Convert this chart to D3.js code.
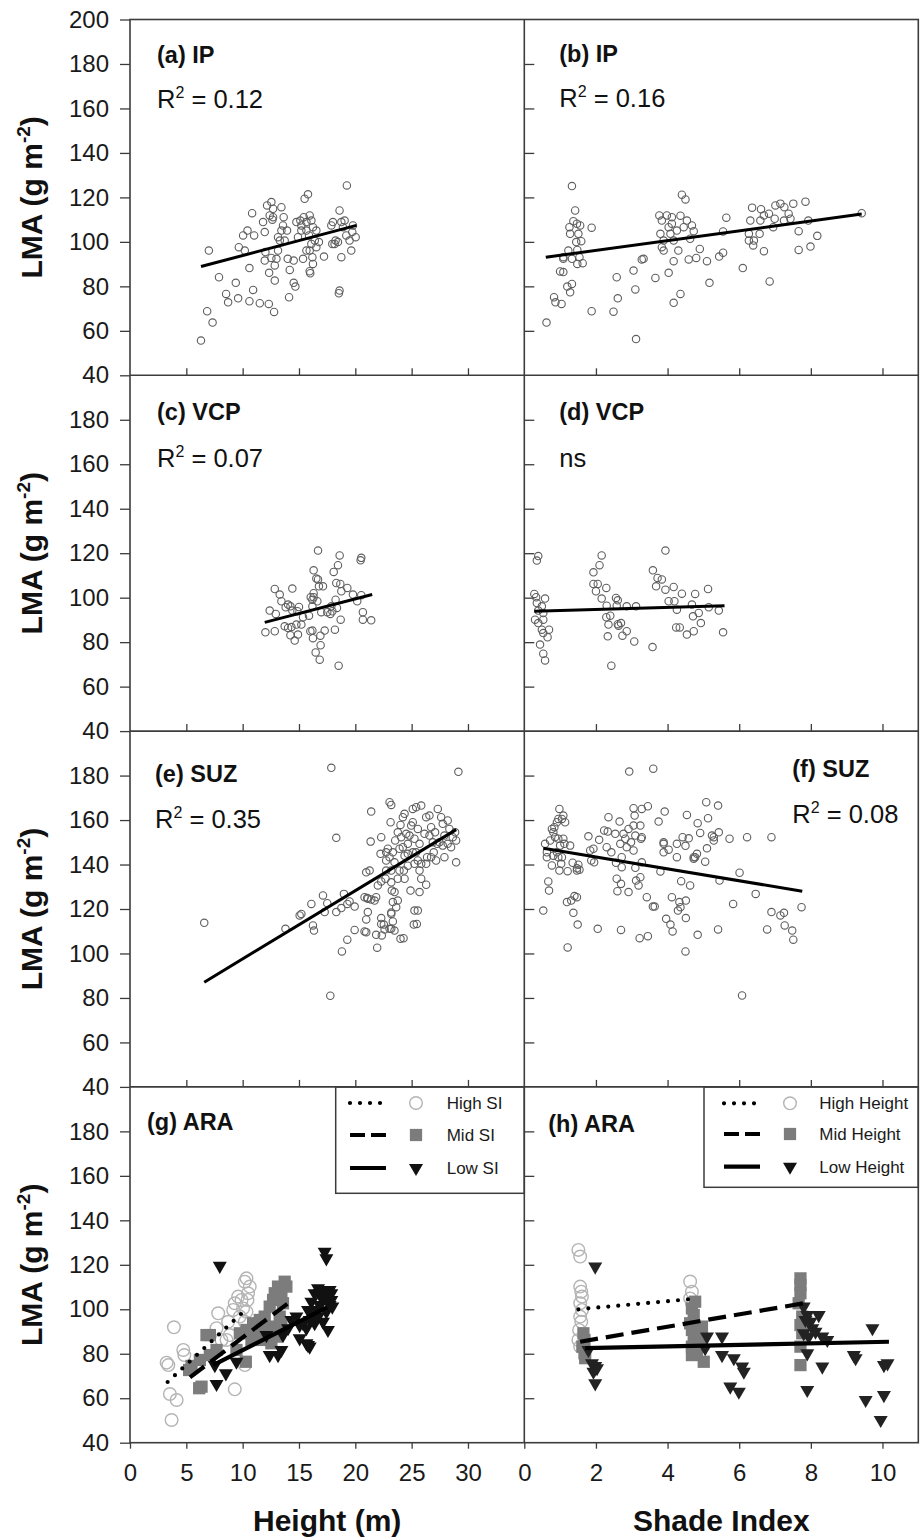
<!DOCTYPE html>
<html>
<head>
<meta charset="utf-8">
<script src="https://cdn.jsdelivr.net/npm/d3@7"></script>
<style>
  body { margin: 0; background: #fff; }
  svg { display: block; font-family: "Liberation Sans", Arial, Helvetica, sans-serif; }
</style>
</head>
<body>
<svg id="chart" width="922" height="1539"></svg>
<script>
// ---- Leaf mass per area (LMA) against tree height and shade index ----

// (a) IP, LMA vs height
const ipHeight = [[6.3,55.6],[6.85,68.8],[7.33,63.7],[7.0,96.1],[7.9,84.1],[8.53,76.6],[8.71,72.8],[9.39,81.6],[9.6,74.6],[9.66,97.6],[10.04,102.9],[10.43,105.1],[10.19,96.1],[10.6,88.2],[10.6,73.3],[10.84,112.9],[11.02,102.9],[10.93,78.4],[11.52,72.4],[12.32,72.1],[12.79,68.5],[12.35,86.1],[12.85,82.6],[12.02,95.4],[12.55,92.8],[11.96,104.4],[11.81,108.9],[12.17,116.4],[12.55,117.9],[12.7,114.9],[12.4,111.9],[12.64,110.0],[13.14,102.1],[13.3,100.6],[13.14,96.1],[13.0,92.4],[13.44,115.6],[13.64,111.1],[13.58,107.4],[13.94,105.1],[14.0,92.4],[14.18,87.4],[14.12,75.1],[14.53,81.6],[14.68,79.9],[14.53,91.6],[14.91,102.1],[15.12,109.6],[15.21,107.4],[15.5,119.4],[15.8,121.4],[15.42,111.1],[15.66,108.9],[15.95,111.9],[16.1,109.6],[16.24,106.6],[15.89,102.9],[16.1,99.1],[16.4,100.6],[15.95,96.1],[16.19,93.1],[15.36,92.4],[16.24,90.1],[15.95,86.8],[16.0,85.9],[16.77,99.9],[17.22,93.4],[16.54,105.1],[17.87,107.4],[18.01,108.9],[18.25,100.6],[18.6,114.1],[18.76,108.9],[18.9,106.6],[19.2,102.9],[19.49,100.6],[19.64,96.1],[18.76,93.1],[18.6,78.1],[18.54,76.9],[19.25,125.4],[19.79,107.4],[20.03,102.1],[19.73,104.4],[18.16,99.1],[18.46,99.9],[17.96,99.1],[14.77,108.9],[15.21,105.1],[11.96,91.6],[12.7,111.1],[13.44,105.1],[12.85,89.4],[13.73,100.6],[15.66,105.1],[16.54,97.6],[15.66,96.1],[19.05,109.6]];
const ipHeightFit = [[6.3,88.9],[20.1,107.4]];

// (b) IP, LMA vs shade index
const ipShade = [[0.62,63.7],[0.83,75.1],[0.87,72.8],[1.04,72.1],[1.0,86.7],[1.09,86.4],[1.2,79.9],[1.28,77.3],[1.33,81.1],[1.33,125.1],[1.42,114.1],[1.37,109.3],[1.26,106.6],[1.47,108.2],[1.56,107.4],[1.28,103.6],[1.51,103.6],[1.59,100.3],[1.45,99.9],[1.23,96.1],[1.48,96.4],[1.09,93.1],[1.33,92.4],[1.54,93.1],[1.48,90.1],[1.63,90.4],[1.88,106.4],[1.88,68.8],[2.49,68.6],[2.61,74.6],[2.58,84.1],[3.05,87.1],[3.1,78.6],[3.12,56.3],[3.28,92.1],[3.33,92.4],[3.66,83.8],[3.77,111.9],[3.84,109.6],[3.8,103.6],[3.84,97.6],[3.89,100.6],[3.98,111.9],[4.03,106.6],[4.12,111.1],[4.08,103.6],[4.17,100.6],[4.03,86.1],[4.17,72.6],[4.17,91.3],[4.3,96.1],[4.36,76.6],[4.36,111.8],[4.4,121.2],[4.5,119.1],[4.45,106.6],[4.54,109.6],[4.68,107.4],[4.73,104.8],[4.63,101.4],[4.59,92.1],[4.8,92.8],[4.9,96.8],[5.1,91.3],[5.17,81.6],[5.44,93.4],[5.55,95.1],[5.55,104.7],[5.64,110.9],[6.1,88.2],[6.27,103.6],[6.31,109.6],[6.36,115.4],[6.41,100.6],[6.39,98.4],[6.57,103.6],[6.61,114.7],[6.59,109.6],[6.69,95.8],[6.83,112.7],[6.85,82.2],[6.95,106.6],[7.01,116.4],[6.99,110.4],[7.15,117.2],[7.26,115.6],[7.25,109.6],[7.43,110.4],[7.51,117.2],[7.38,112.7],[7.66,104.8],[7.66,96.4],[7.85,118.1],[7.93,109.6],[7.99,97.9],[8.18,102.7],[9.42,112.9],[6.27,100.6],[6.69,111.9],[4.12,108.2],[4.26,105.1],[3.89,96.1],[1.09,92.4]];
const ipShadeFit = [[0.6,93.1],[9.42,112.5]];

// (c) VCP, LMA vs height
const vcpHeight = [[12.02,84.4],[12.85,84.9],[12.4,94.2],[12.85,103.9],[13.29,101.4],[13.44,98.4],[12.94,92.7],[13.82,95.7],[14.03,96.9],[14.41,104.1],[14.24,96.1],[14.41,94.2],[15.0,95.8],[14.03,86.4],[14.33,86.8],[14.24,83.1],[14.62,80.7],[14.91,83.4],[14.77,87.9],[15.21,87.9],[15.36,91.2],[15.89,91.9],[16.01,84.9],[16.24,81.8],[16.19,85.2],[16.48,75.4],[16.84,72.1],[16.92,78.6],[16.9,82.9],[17.28,85.2],[16.19,96.1],[16.3,100.2],[16.19,99.1],[16.3,102.0],[16.63,98.4],[16.98,93.5],[16.3,112.3],[16.54,108.6],[16.69,121.2],[16.77,105.1],[17.13,105.1],[17.78,92.7],[17.96,93.9],[18.19,85.6],[18.25,99.1],[18.37,95.4],[18.08,111.6],[18.46,114.6],[18.61,119.0],[18.31,106.6],[18.67,106.2],[18.76,102.9],[18.7,90.1],[18.52,69.4],[19.29,104.4],[19.79,101.4],[20.17,98.4],[20.53,101.1],[20.53,117.9],[20.47,116.8],[20.67,93.5],[20.67,90.1],[21.41,89.8],[16.04,100.2],[14.86,93.9],[13.73,87.1],[17.51,93.5],[17.87,96.1],[16.69,108.2]];
const vcpHeightFit = [[11.96,88.9],[21.5,101.4]];

// (d) VCP, LMA vs shade index
const vcpShade = [[0.39,118.7],[0.35,116.7],[0.28,101.7],[0.33,100.2],[0.58,99.6],[0.35,97.6],[0.49,96.1],[0.39,94.2],[0.53,93.1],[0.3,90.1],[0.53,90.1],[0.39,88.6],[0.49,85.6],[0.69,85.6],[0.53,84.1],[0.65,82.2],[0.44,78.9],[0.53,74.8],[0.58,71.8],[1.93,111.4],[2.1,114.6],[2.16,119.0],[1.93,106.2],[2.05,106.2],[2.0,102.9],[2.29,104.4],[2.16,99.6],[2.3,96.4],[2.29,91.2],[2.4,91.9],[2.33,82.6],[2.43,69.4],[2.56,99.9],[2.61,98.8],[2.58,96.4],[2.61,88.1],[2.7,88.6],[2.63,87.4],[2.74,82.9],[2.86,84.9],[2.86,96.1],[3.07,80.3],[3.12,96.1],[3.59,112.3],[3.68,105.1],[3.72,108.9],[3.84,108.2],[3.94,121.2],[3.94,103.6],[3.58,77.8],[4.17,104.8],[4.19,98.4],[4.26,94.6],[4.4,101.8],[4.24,86.6],[4.34,86.6],[4.54,83.4],[4.73,84.9],[4.68,96.9],[4.71,91.6],[4.77,101.7],[4.87,93.1],[4.93,88.6],[5.13,103.9],[5.15,95.7],[5.43,94.2],[5.55,84.4],[4.03,98.4],[2.35,87.9]];
const vcpShadeFit = [[0.28,93.9],[5.59,96.4]];

// (e) SUZ, LMA vs height
const suzHeight = [[6.59,113.8],[17.78,81.0],[13.8,111.1],[15.06,117.1],[15.21,117.8],[16.1,122.3],[16.24,112.6],[16.33,110.3],[17.28,118.6],[17.51,122.6],[18.31,152.0],[18.31,118.6],[18.76,120.4],[18.99,126.8],[19.29,122.3],[19.49,123.4],[19.94,121.1],[19.29,106.2],[18.81,100.9],[19.94,110.6],[20.82,109.9],[20.97,115.3],[20.82,125.3],[21.06,124.9],[20.97,136.5],[21.27,137.3],[21.36,150.3],[21.41,163.8],[21.94,102.6],[21.85,108.4],[21.85,125.3],[21.71,123.8],[22.0,130.6],[22.3,132.4],[22.24,144.8],[22.3,152.3],[22.3,115.9],[22.53,113.0],[22.35,108.1],[22.74,141.8],[22.68,133.6],[22.89,147.1],[23.04,168.0],[23.19,166.8],[23.13,159.0],[23.19,132.0],[23.24,128.3],[23.33,123.1],[23.19,118.4],[23.19,111.1],[23.48,110.3],[23.33,114.4],[23.63,120.8],[23.77,123.8],[23.48,127.6],[23.77,133.6],[23.48,141.0],[23.33,145.5],[23.54,150.8],[23.77,154.5],[24.07,152.3],[24.22,161.3],[24.37,162.8],[24.01,157.8],[24.22,147.8],[24.37,144.0],[24.31,137.3],[24.37,133.6],[24.28,106.9],[24.66,149.3],[24.81,153.0],[24.96,157.5],[25.1,165.0],[25.4,165.8],[25.1,159.0],[25.25,151.6],[25.4,145.5],[25.55,141.8],[25.7,137.3],[25.85,133.6],[24.9,128.3],[25.55,119.3],[25.19,113.0],[25.7,149.3],[25.85,166.5],[26.14,153.8],[26.29,161.3],[26.37,143.3],[26.29,130.9],[26.58,162.0],[26.73,156.8],[26.88,150.0],[26.96,145.5],[27.17,141.8],[26.58,153.0],[27.32,165.0],[27.62,161.3],[27.76,158.3],[27.91,153.0],[28.2,159.8],[28.35,156.0],[28.65,152.3],[28.95,150.8],[28.95,141.0],[27.47,150.0],[27.76,148.5],[25.85,140.3],[26.29,140.3],[25.25,140.3],[24.66,139.5],[23.92,137.3],[23.19,137.3],[22.74,137.3],[23.04,143.3],[21.11,124.6],[22.6,110.8],[23.04,111.1],[24.01,106.6],[25.25,119.3],[25.46,113.3],[25.7,127.6],[26.73,143.3],[27.26,149.3],[23.19,117.8],[22.3,113.3],[21.41,124.3],[17.13,126.1],[22.74,145.5],[24.66,144.8],[25.1,145.5],[23.92,147.1],[24.52,153.8],[25.55,156.0],[27.08,154.5],[28.2,149.3],[28.5,147.8],[28.86,154.5],[27.91,143.3],[21.11,118.6],[20.97,109.6],[17.87,183.5],[29.15,181.7]];
const suzHeightFit = [[6.59,87.1],[28.95,155.7]];

// (f) SUZ, LMA vs shade index
const suzShade = [[0.53,119.3],[0.58,149.3],[0.63,143.3],[0.67,132.4],[0.69,128.3],[0.63,145.5],[0.77,139.6],[0.81,154.5],[0.84,156.8],[0.86,152.3],[0.91,159.0],[0.95,160.5],[0.98,165.0],[1.05,160.5],[1.09,162.0],[1.14,159.0],[0.95,151.6],[1.0,148.5],[0.91,145.5],[0.81,144.0],[0.95,143.3],[1.05,143.3],[1.09,151.6],[1.12,149.3],[1.28,148.5],[0.98,137.3],[1.03,140.3],[1.21,137.0],[1.35,140.8],[1.47,137.3],[1.54,137.7],[1.19,123.1],[1.31,123.8],[1.4,125.8],[1.47,125.3],[1.37,118.3],[1.49,113.0],[1.21,102.7],[1.79,152.7],[1.84,146.3],[1.93,147.1],[1.95,141.0],[2.05,111.1],[2.09,151.1],[2.3,147.8],[2.33,154.8],[2.35,161.3],[2.43,145.5],[2.54,153.8],[2.56,140.8],[2.58,133.6],[2.6,128.0],[2.66,159.3],[2.7,131.3],[2.7,110.6],[2.68,149.3],[2.72,143.3],[2.77,153.8],[2.82,151.6],[2.86,147.8],[2.91,156.0],[2.91,127.6],[2.98,150.0],[3.05,146.3],[3.05,165.3],[3.08,162.0],[3.05,157.5],[3.1,153.0],[3.1,138.5],[3.12,132.8],[3.19,130.6],[3.22,106.9],[3.24,157.5],[3.26,151.6],[3.28,165.0],[3.28,141.0],[3.24,134.3],[3.45,166.2],[3.42,125.3],[3.45,107.8],[3.59,121.1],[3.64,121.1],[3.75,159.3],[3.8,136.9],[3.89,150.0],[3.89,145.5],[3.92,163.8],[3.96,115.6],[4.03,146.7],[4.08,113.0],[4.12,125.3],[4.14,109.9],[4.26,149.3],[4.26,143.3],[4.29,119.3],[4.33,123.1],[4.36,120.8],[4.38,132.5],[4.42,152.3],[4.5,148.4],[4.5,100.9],[4.51,123.8],[4.51,115.9],[4.54,162.3],[4.59,151.8],[4.63,130.6],[4.73,143.3],[4.77,143.3],[4.82,144.8],[4.84,108.4],[4.84,158.6],[4.91,154.2],[5.05,141.3],[5.08,168.0],[5.1,147.3],[5.13,160.8],[5.24,153.0],[5.29,150.8],[5.41,110.8],[5.41,166.5],[5.43,154.5],[5.45,132.8],[5.73,151.6],[5.83,122.3],[6.01,136.3],[6.08,81.1],[6.22,152.3],[6.46,126.8],[6.78,110.8],[6.9,118.6],[6.9,152.3],[7.15,117.1],[7.25,118.3],[7.27,112.6],[7.48,110.3],[7.51,106.2],[7.74,120.8],[1.47,138.3],[1.87,141.8],[2.23,155.3],[2.72,138.8],[3.28,152.3],[3.89,149.3],[4.73,142.6],[5.29,152.3],[1.51,139.9],[0.77,156.0],[0.72,150.8],[2.93,181.8],[3.6,183.1]];
const suzShadeFit = [[0.53,147.3],[7.76,128.0]];

// (g) ARA, LMA vs height, grouped by shade index class
const araHeightHighSI = [[3.69,50.2],[3.54,61.9],[4.14,59.2],[3.25,76.0],[3.4,74.9],[4.73,81.7],[4.82,79.4],[3.9,91.9],[7.83,98.2],[7.68,91.5],[8.71,94.4],[8.86,88.4],[9.3,64.0],[10.19,74.9],[9.3,102.7],[9.6,105.7],[9.9,104.2],[10.19,112.4],[10.34,113.9],[10.63,110.2],[10.48,107.2],[10.04,100.4],[10.34,98.9],[9.75,96.7],[10.19,94.4],[10.43,104.2],[9.16,99.7],[8.57,86.2],[8.12,86.2]];
const araHeightMidSI = [[6.14,64.5],[6.35,65.2],[5.25,72.7],[5.46,74.5],[6.2,77.2],[7.09,79.4],[6.79,88.4],[7.09,88.4],[10.28,76.4],[9.75,89.2],[10.34,90.7],[9.45,81.7],[10.93,93.7],[11.08,89.9],[10.78,86.2],[11.52,95.2],[11.81,92.2],[12.25,87.7],[12.55,84.7],[11.96,96.7],[12.4,101.2],[12.7,104.2],[12.85,107.2],[13.14,110.2],[13.73,112.4],[13.88,110.2],[13.44,106.4],[13.58,102.7],[13.29,96.7],[12.85,92.2],[13.0,87.7],[13.44,93.7],[11.81,86.2],[7.68,81.7]];
const araHeightLowSI = [[7.97,119.5],[7.68,66.4],[7.53,74.9],[8.51,71.2],[9.45,76.4],[12.4,79.4],[13.14,79.4],[13.44,81.7],[13.58,88.4],[12.11,88.4],[15.06,86.9],[15.66,84.7],[15.95,83.2],[14.77,96.7],[15.36,93.7],[15.66,91.5],[15.95,95.2],[16.24,97.4],[16.54,99.7],[16.84,101.9],[17.13,104.2],[16.39,107.2],[16.69,109.4],[17.13,108.7],[17.57,106.4],[17.72,108.7],[17.28,125.9],[17.43,122.9],[17.57,90.7],[17.13,94.4],[17.43,98.9],[17.72,101.9],[17.87,104.2],[16.1,103.4],[16.39,93.7],[16.69,96.7],[14.03,91.5],[14.33,95.2],[15.06,92.9],[15.8,99.7],[16.84,107.2],[17.87,107.2],[17.96,101.2],[15.8,83.9]];
const araHeightHighSIFit = [[3.34,67.3],[10.3,100.0]];
const araHeightMidSIFit = [[5.32,69.4],[14.03,102.7]];
const araHeightLowSIFit = [[7.38,74.9],[17.5,100.8]];

// (h) ARA, LMA vs shade index, grouped by height class
const araShadeHighHt = [[1.51,126.7],[1.56,123.7],[1.56,110.2],[1.59,107.9],[1.61,105.7],[1.56,102.7],[1.61,99.7],[1.56,96.7],[1.59,94.4],[1.53,90.7],[1.51,86.2],[1.56,83.2],[4.63,112.5],[4.68,107.9],[4.63,104.9],[4.68,102.7]];
const araShadeMidHt = [[1.65,89.2],[1.68,86.2],[1.62,83.2],[1.68,80.2],[1.7,78.0],[4.68,100.4],[4.73,97.4],[4.63,93.7],[4.68,90.7],[4.73,87.0],[4.68,83.2],[4.68,79.4],[4.96,92.2],[4.96,87.0],[5.01,76.4],[4.77,103.4],[7.71,113.9],[7.71,110.9],[7.71,107.2],[7.66,102.7],[7.71,92.9],[7.76,89.2],[7.71,83.2],[7.71,74.9],[7.76,96.7],[4.82,80.2]];
const araShadeLowHt = [[1.98,119.2],[1.89,75.7],[1.98,74.5],[1.93,71.9],[2.03,73.5],[1.98,66.7],[1.79,81.7],[5.1,87.7],[5.05,82.5],[5.52,87.7],[5.52,79.4],[5.85,78.0],[6.08,74.2],[6.13,71.9],[5.75,65.2],[5.99,62.9],[7.8,101.2],[7.9,97.4],[7.99,94.4],[8.22,97.4],[7.8,89.2],[7.94,87.7],[8.13,89.9],[8.32,87.7],[8.46,86.2],[7.9,80.2],[8.32,74.2],[7.9,63.7],[9.2,79.4],[9.25,78.0],[9.72,91.5],[10.04,74.9],[10.14,75.7],[9.53,59.2],[10.04,61.4],[9.95,50.2],[8.04,91.5],[7.85,95.2]];
const araShadeHighHtFit = [[1.51,100.0],[4.59,104.5]];
const araShadeMidHtFit = [[1.56,85.4],[7.8,102.7]];
const araShadeLowHtFit = [[1.7,82.5],[10.18,85.4]];

// Axis ticks and labels
const lmaTicks = [40, 60, 80, 100, 120, 140, 160, 180, 200];
const heightTicks = [0, 5, 10, 15, 20, 25, 30];
const shadeTicks = [0, 2, 4, 6, 8, 10];
const panelLabels = ["(a) IP", "(b) IP", "(c) VCP", "(d) VCP", "(e) SUZ", "(f) SUZ", "(g) ARA", "(h) ARA"];
const panelR2 = ["0.12", "0.16", "0.07", null, "0.35", "0.08", null, null];
const legendHeight = ["High SI", "Mid SI", "Low SI"];
const legendShade = ["High Height", "Mid Height", "Low Height"];

// ---- layout ----
const xLeft = 130, xMid = 524.3, xRight = 918.3;
const yTop = 19.5, rowH = 355.8;
const frameColor = "#3c3c3c";
const svg = d3.select("#chart");

const xHeight = d3.scaleLinear().domain([0, 35]).range([xLeft, xMid]);
const xShade = d3.scaleLinear().domain([0, 11]).range([xMid, xRight]);
const yRow = i => d3.scaleLinear().domain([40, 200]).range([yTop + rowH * (i + 1), yTop + rowH * i]);

// ---- axes ----
function styleAxis(g, fontSize) {
  g.select(".domain").remove();
  g.selectAll(".tick line").attr("stroke", frameColor).attr("stroke-width", 1.3);
  g.selectAll(".tick text").attr("fill", "#1a1a1a").style("font-size", fontSize + "px")
    .style("font-family", '"Liberation Sans", Arial, sans-serif');
}

for (let r = 0; r < 4; r++) {
  const y = yRow(r);
  const bottom = yTop + rowH * (r + 1);
  // left LMA axis with labels
  svg.append("g").attr("transform", `translate(${xLeft},0)`)
    .call(d3.axisLeft(y).tickValues(r === 0 ? lmaTicks : lmaTicks.slice(0, -1)).tickSize(10).tickPadding(11))
    .call(g => styleAxis(g, 24));
  // inner ticks on the shade-index panel
  svg.append("g").attr("transform", `translate(${xMid},0)`)
    .call(d3.axisRight(y).tickValues(lmaTicks.slice(1, -1)).tickSize(10).tickFormat(""))
    .call(g => styleAxis(g, 24));
  if (r < 3) {
    svg.append("g").attr("transform", `translate(0,${bottom})`)
      .call(d3.axisTop(xHeight).tickValues(heightTicks.slice(1)).tickSize(7).tickFormat(""))
      .call(g => styleAxis(g, 24));
    svg.append("g").attr("transform", `translate(0,${bottom})`)
      .call(d3.axisTop(xShade).tickValues(shadeTicks.slice(1)).tickSize(7).tickFormat(""))
      .call(g => styleAxis(g, 24));
  } else {
    svg.append("g").attr("transform", `translate(0,${bottom})`)
      .call(d3.axisBottom(xHeight).tickValues(heightTicks).tickSize(6).tickPadding(15))
      .call(g => styleAxis(g, 24));
    svg.append("g").attr("transform", `translate(0,${bottom})`)
      .call(d3.axisBottom(xShade).tickValues(shadeTicks).tickSize(6).tickPadding(15))
      .call(g => styleAxis(g, 24));
  }
}

// ---- scatter panels a-f ----
const simplePanels = [
  { row: 0, x: xHeight, pts: ipHeight, fit: ipHeightFit },
  { row: 0, x: xShade, pts: ipShade, fit: ipShadeFit },
  { row: 1, x: xHeight, pts: vcpHeight, fit: vcpHeightFit },
  { row: 1, x: xShade, pts: vcpShade, fit: vcpShadeFit },
  { row: 2, x: xHeight, pts: suzHeight, fit: suzHeightFit },
  { row: 2, x: xShade, pts: suzShade, fit: suzShadeFit }
];

simplePanels.forEach(p => {
  const y = yRow(p.row);
  const g = svg.append("g");
  g.selectAll("circle").data(p.pts).join("circle")
    .attr("cx", d => p.x(d[0])).attr("cy", d => y(d[1])).attr("r", 3.7)
    .attr("fill", "none").attr("stroke", "#5e5e5e").attr("stroke-width", 1.1);
  g.append("path").datum(p.fit)
    .attr("d", d3.line().x(d => p.x(d[0])).y(d => y(d[1])))
    .attr("stroke", "#000").attr("stroke-width", 3).attr("fill", "none");
});

// ---- grouped panels g and h ----
const styles = [
  { dash: "0,10", cap: "round" },
  { dash: "18,8", cap: "butt" },
  { dash: null, cap: "butt" }
];
const circleSym = d3.symbol().type(d3.symbolCircle).size(Math.PI * 6.3 * 6.3);
const squareSym = d3.symbol().type(d3.symbolSquare).size(150);
const triSym = d3.symbol().type(d3.symbolTriangle).size(85);

function drawMarkers(g, pts, x, y, kind, color) {
  const sel = g.append("g").selectAll("path").data(pts).join("path")
    .attr("transform", d => `translate(${x(d[0])},${y(d[1])})` + (kind === 2 ? " rotate(180)" : ""));
  if (kind === 0) sel.attr("d", circleSym).attr("fill", "none").attr("stroke", "#b4b4b4").attr("stroke-width", 1.4);
  if (kind === 1) sel.attr("d", squareSym).attr("fill", "#7c7c7c");
  if (kind === 2) sel.attr("d", triSym).attr("fill", color);
}

function drawFit(g, fit, x, y, kind) {
  g.append("path").datum(fit)
    .attr("d", d3.line().x(d => x(d[0])).y(d => y(d[1])))
    .attr("stroke", "#000").attr("stroke-width", 4.2).attr("fill", "none")
    .attr("stroke-linecap", styles[kind].cap)
    .attr("stroke-dasharray", styles[kind].dash);
}

const yG = yRow(3);
const gG = svg.append("g");
drawMarkers(gG, araHeightHighSI, xHeight, yG, 0);
drawMarkers(gG, araHeightMidSI, xHeight, yG, 1);
drawMarkers(gG, araHeightLowSI, xHeight, yG, 2, "#111");
drawFit(gG, araHeightHighSIFit, xHeight, yG, 0);
drawFit(gG, araHeightMidSIFit, xHeight, yG, 1);
drawFit(gG, araHeightLowSIFit, xHeight, yG, 2);

const gH = svg.append("g");
drawMarkers(gH, araShadeHighHt, xShade, yG, 0);
drawMarkers(gH, araShadeMidHt, xShade, yG, 1);
drawMarkers(gH, araShadeLowHt, xShade, yG, 2, "#222");
drawFit(gH, araShadeHighHtFit, xShade, yG, 0);
drawFit(gH, araShadeMidHtFit, xShade, yG, 1);
drawFit(gH, araShadeLowHtFit, xShade, yG, 2);

// ---- legends ----
const legendDash = ["0,10", "15,6", null];
function legend(items, box, rows, lineX, markX, textX) {
  const g = svg.append("g");
  g.append("rect").attr("x", box[0]).attr("y", box[1]).attr("width", box[2]).attr("height", box[3])
    .attr("fill", "#fff").attr("stroke", frameColor).attr("stroke-width", 1.5);
  items.forEach((t, i) => {
    const yy = rows[i];
    g.append("line").attr("x1", lineX[0]).attr("x2", lineX[1]).attr("y1", yy).attr("y2", yy)
      .attr("stroke", "#000").attr("stroke-width", 4.2)
      .attr("stroke-linecap", styles[i].cap).attr("stroke-dasharray", legendDash[i]);
    drawMarkers(g, [[0, 0]], () => markX, () => yy, i, "#111");
    g.append("text").attr("x", textX).attr("y", yy).attr("dy", "0.35em")
      .style("font-size", "17px").attr("fill", "#1a1a1a").text(t);
  });
}
legend(legendHeight, [335.7, 1087, xMid - 335.7, 106.3], [1103, 1135, 1168], [350, 386], 416, 446.7);
legend(legendShade, [704, 1087, xRight - 704, 100.3], [1103.3, 1134, 1166.7], [724, 760], 790, 819.3);

// ---- frame ----
const frame = svg.append("g").attr("stroke", frameColor).attr("stroke-width", 1.6).attr("fill", "none");
frame.append("rect").attr("x", xLeft).attr("y", yTop).attr("width", xRight - xLeft).attr("height", rowH * 4);
frame.append("line").attr("x1", xMid).attr("x2", xMid).attr("y1", yTop).attr("y2", yTop + rowH * 4);
for (let r = 1; r < 4; r++) {
  frame.append("line").attr("x1", xLeft).attr("x2", xRight)
    .attr("y1", yTop + rowH * r).attr("y2", yTop + rowH * r);
}

// ---- panel annotations ----
const labelPos = [
  [xLeft + 27, 43, 88], [xMid + 35, 42, 87],
  [xLeft + 27, 45, 92], [xMid + 35, 45, 92],
  [xLeft + 25, 50.5, 97], [xMid + 268, 46, 92],
  [xLeft + 17, 43], [xMid + 24, 45]
];
panelLabels.forEach((lab, i) => {
  const r = Math.floor(i / 2);
  const top = yTop + rowH * r;
  const [lx, ly, sy] = labelPos[i];
  svg.append("text").attr("x", lx).attr("y", top + ly)
    .style("font-size", "23.5px").style("font-weight", "bold").attr("fill", "#111").text(lab);
  if (panelR2[i]) {
    const t = svg.append("text").attr("x", lx).attr("y", top + sy)
      .style("font-size", "25.5px").attr("fill", "#111");
    t.append("tspan").text("R");
    t.append("tspan").attr("dy", -10).style("font-size", "16px").text("2");
    t.append("tspan").attr("dy", 10).text(" = " + panelR2[i]);
  } else if (i === 3) {
    svg.append("text").attr("x", lx).attr("y", top + sy)
      .style("font-size", "25.5px").attr("fill", "#111").text("ns");
  }
});

// ---- axis titles ----
for (let r = 0; r < 4; r++) {
  const cy = yTop + rowH * (r + 0.5);
  const t = svg.append("text").attr("transform", `translate(42,${cy}) rotate(-90)`)
    .attr("text-anchor", "middle").style("font-size", "30px").style("font-weight", "bold").attr("fill", "#111");
  t.append("tspan").text("LMA (g m");
  t.append("tspan").attr("dy", -12).style("font-size", "19px").text("-2");
  t.append("tspan").attr("dy", 12).text(")");
}
svg.append("text").attr("x", (xLeft + xMid) / 2).attr("y", 1531).attr("text-anchor", "middle")
  .style("font-size", "30px").style("font-weight", "bold").attr("fill", "#111").text("Height (m)");
svg.append("text").attr("x", (xMid + xRight) / 2).attr("y", 1531).attr("text-anchor", "middle")
  .style("font-size", "30px").style("font-weight", "bold").attr("fill", "#111").text("Shade Index");
</script>
</body>
</html>
